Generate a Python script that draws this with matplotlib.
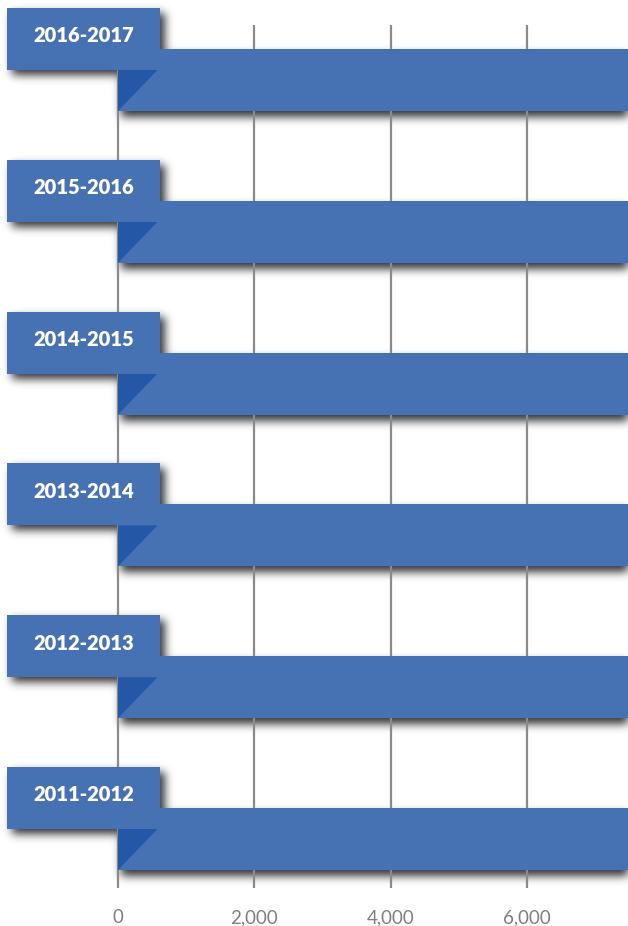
import matplotlib
matplotlib.use("Agg")
import matplotlib.pyplot as plt
from matplotlib.patches import Rectangle, Polygon
import numpy as np

# data (top to bottom); every bar runs past the right edge of the chart
seasons = ["2016-2017", "2015-2016", "2014-2015", "2013-2014", "2012-2013", "2011-2012"]
values = [9000, 8900, 8800, 8700, 8600, 8500]
ticks = [0, 2000, 4000, 6000]

BAR = "#4672b4"
DARK = "#2457a6"
GRID = "#8a8a8a"

W, H = 628, 926
fig = plt.figure(figsize=(W / 100, H / 100), dpi=100)
ax = fig.add_axes([0, 0, 1, 1])
ax.axis("off")

xlim = (-1731, 7482)
ylim = (5.573, -0.527)
ax.set_xlim(*xlim)
ax.set_ylim(*ylim)

y = np.arange(len(seasons))
bar_h = 0.408
tab_x0, tab_x1 = -1630, 615
tab_top, tab_bot = -0.474, -0.066

# bars
ax.barh(y, values, height=bar_h, color=BAR, zorder=3)

# grid lines + tick labels
ax.vlines(ticks, -0.362, 5.32, color=GRID, lw=1.6, zorder=2)
for t in ticks:
    ax.text(t, 5.52, f"{t:,}", ha="center", va="center", color="#7f7f7f",
            fontsize=13.5, family=["Lato", "DejaVu Sans"], zorder=5)

# folded corner + label tabs
for i, s in enumerate(seasons):
    tri = Polygon([(0, i + tab_bot), (580, i + tab_bot), (0, i + bar_h / 2)],
                  closed=True, color=DARK, lw=0, zorder=4)
    ax.add_patch(tri)
    tab = Rectangle((tab_x0, i + tab_top), tab_x1 - tab_x0, tab_bot - tab_top,
                    color=BAR, lw=0, zorder=5)
    ax.add_patch(tab)
    ax.text((tab_x0 + tab_x1) / 2, i + (tab_top + tab_bot) / 2 - 0.02, s,
            ha="center", va="center", color="white", fontsize=14.5,
            fontweight="heavy", family=["Lato", "DejaVu Sans"], zorder=6)

# soft drop shadows, blurred mask drawn under everything
fig.canvas.draw()
mask = np.zeros((H, W))


def paint(x0, x1, y0, y1, dx, dy, a):
    (px0, py0), (px1, py1) = ax.transData.transform([(x0, y0), (x1, y1)])
    c0, c1 = sorted([px0, px1])
    r0, r1 = sorted([H - py0, H - py1])
    c0, c1 = int(round(c0 + dx)), int(round(c1 + dx))
    r0, r1 = int(round(r0 + dy)), int(round(r1 + dy))
    c0, r0 = max(c0, 0), max(r0, 0)
    mask[r0:r1, c0:c1] = np.maximum(mask[r0:r1, c0:c1], a)


for i, v in enumerate(values):
    paint(0, v * 1.2, i - bar_h / 2, i + bar_h / 2, 3, 6, 0.8)
    paint(tab_x0, tab_x1, i + tab_top, i + tab_bot, 5, 5, 0.8)

sig = 4.5
k = np.arange(-14, 15)
kern = np.exp(-k ** 2 / (2 * sig ** 2))
kern /= kern.sum()
mask = np.apply_along_axis(lambda r: np.convolve(r, kern, mode="same"), 1, mask)
mask = np.apply_along_axis(lambda c: np.convolve(c, kern, mode="same"), 0, mask)

img = np.zeros((H, W, 4))
img[..., 3] = mask
ax.imshow(img, extent=(xlim[0], xlim[1], ylim[0], ylim[1]), origin="upper",
          aspect="auto", zorder=1, interpolation="nearest")
ax.set_xlim(*xlim)
ax.set_ylim(*ylim)

fig.savefig("out.png", dpi=100)
